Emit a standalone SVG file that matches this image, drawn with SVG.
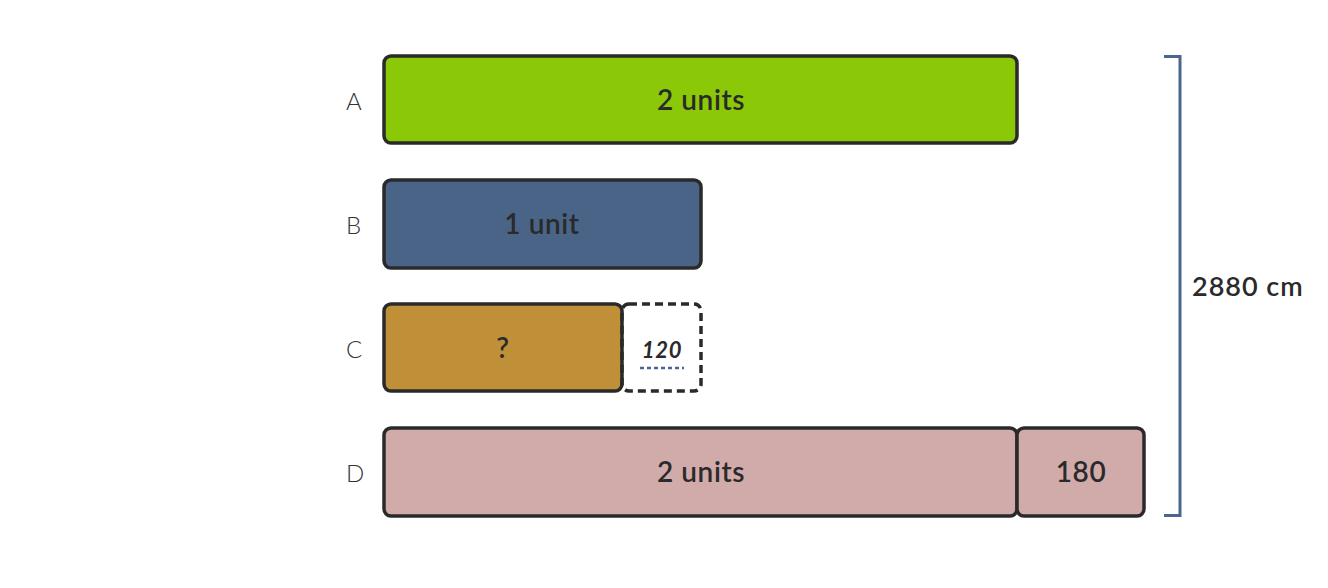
<svg xmlns="http://www.w3.org/2000/svg" width="1328" height="588" viewBox="0 0 1328 588">
<style>
.bar{stroke:#2a2a2a;stroke-width:3.5}
.lbl{font-family:Lato,"Liberation Sans",sans-serif;font-size:24px;fill:#333;font-weight:300}
.t{font-family:Lato,"Liberation Sans",sans-serif;font-size:28px;fill:#2a2a2a;font-weight:600;text-anchor:middle;letter-spacing:0.6px}
</style>
<rect width="1328" height="588" fill="#fff"/>
<g id="A">
<text class="lbl" x="346" y="110">A</text>
<rect class="bar" x="384" y="56" width="633" height="87" rx="7" fill="#8ac808"/>
<text class="t" x="701" y="110">2 units</text>
</g>
<g id="B">
<text class="lbl" x="346" y="234">B</text>
<rect class="bar" x="384" y="180" width="317" height="88" rx="7" fill="#4a6487"/>
<text class="t" x="542" y="234">1 unit</text>
</g>
<g id="C">
<text class="lbl" x="346" y="358">C</text>
<rect class="bar" x="384" y="304" width="238" height="87" rx="7" fill="#c09038"/>
<text class="t" x="503" y="358">?</text>
</g>
<g id="C-extra">
<rect x="622" y="304" width="79" height="87" rx="7" fill="none" stroke="#2a2a2a" stroke-width="3.5" stroke-dasharray="8,5"/>
<text x="662" y="358" font-family="Lato,'Liberation Sans',sans-serif" font-size="22" font-style="italic" font-weight="700" fill="#2a2a2a" text-anchor="middle" letter-spacing="0.8">120</text>
<line x1="640" y1="368" x2="684" y2="368" stroke="#4a6690" stroke-width="2.5" stroke-dasharray="4,3"/>
</g>
<g id="D">
<text class="lbl" x="346" y="482">D</text>
<rect class="bar" x="384" y="428" width="633" height="88" rx="7" fill="#d1aaaa"/>
<text class="t" x="701" y="482">2 units</text>
<rect class="bar" x="1017" y="428" width="127" height="88" rx="7" fill="#d1aaaa"/>
<text class="t" x="1081" y="482">180</text>
</g>
<g id="connectors">
<path d="M1164 56.5 H1180 V515.5 H1164" fill="none" stroke="#4a6690" stroke-width="3"/>
</g>
<g id="total">
<text x="1192" y="296" font-family="Lato,'Liberation Sans',sans-serif" font-size="27" font-weight="600" fill="#2a2a2a" letter-spacing="1">2880 cm</text>
</g>
</svg>
